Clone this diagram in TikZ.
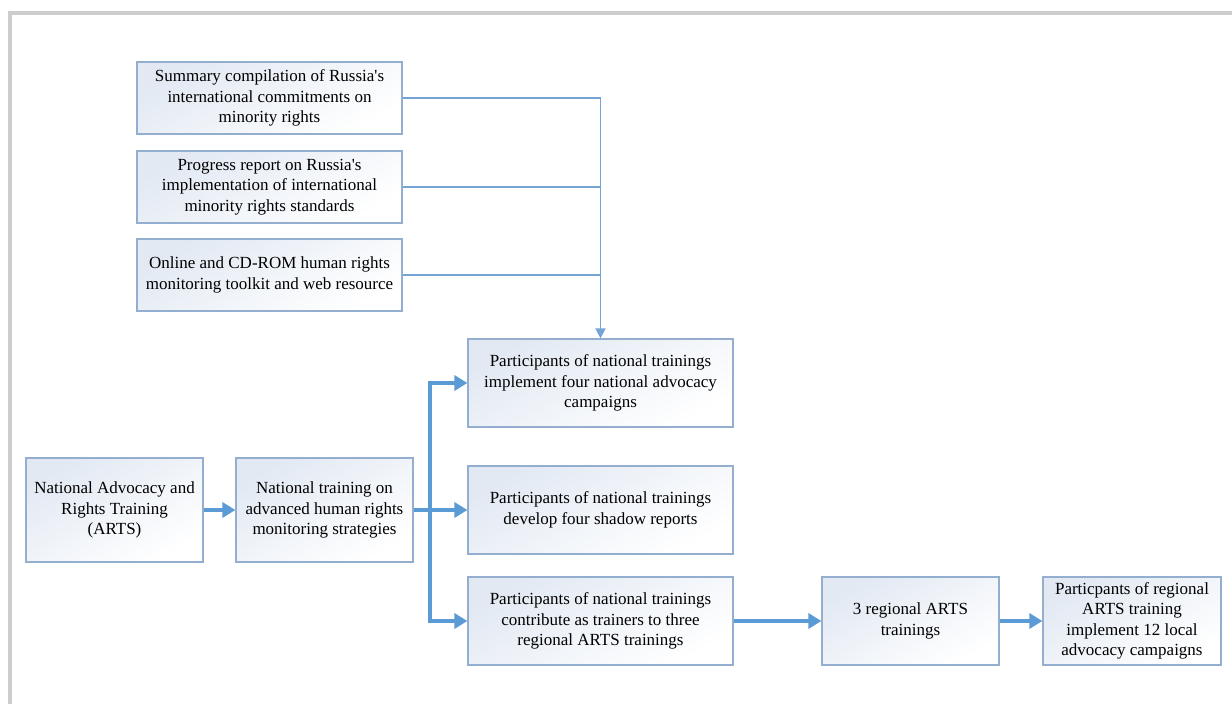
\documentclass[tikz,border=0pt]{standalone}
\usepackage{fontspec}
\setmainfont{Liberation Serif}
\usetikzlibrary{arrows.meta,calc}
\definecolor{boxedge}{HTML}{93AECF}
\definecolor{boxfill}{HTML}{E2E9F3}
\definecolor{thinline}{HTML}{74A4D6}
\definecolor{thickline}{HTML}{5B9BD5}
\definecolor{framegray}{HTML}{CDCDCD}
\begin{document}
\begin{tikzpicture}[x=1pt,y=-1pt,
  box/.style={draw=boxedge, line width=1.2pt, top color=boxfill, bottom color=white, shading angle=30,
    align=center, inner sep=0pt, font=\fontsize{17}{20.5}\selectfont},
  wbox/.style={box, minimum width=265pt},
  nbox/.style={box, minimum width=177pt},
  thinarrow/.style={draw=thinline, line width=1.5pt},
  thickarrow/.style={draw=thickline, line width=3.5pt},
  thintip/.style={-{Triangle[length=10pt,width=10pt]}},
  thicktip/.style={-{Triangle[length=13pt,width=15pt]}}
]
\useasboundingbox (0,0) rectangle (1232,704);
\fill[white] (0,0) rectangle (1232,704);
% frame
\draw[framegray, line width=4.5pt] (10,704) -- (10,13) -- (1232,13);

% top source boxes
\node[wbox, minimum height=72pt] (A) at (269.5,98) {Summary compilation of Russia\textquotesingle s\\international commitments on\\minority rights};
\node[wbox, minimum height=72pt] (B) at (269.5,187) {Progress report on Russia\textquotesingle s\\implementation of international\\minority rights standards};
\node[wbox, minimum height=72pt] (C) at (269.5,275) {Online and CD-ROM human rights\\monitoring toolkit and web resource};

% outcome boxes
\node[wbox, minimum height=88pt] (D) at (600.5,383) {Participants of national trainings\\implement four national advocacy\\campaigns};
\node[wbox, minimum height=88pt] (E) at (600.5,510) {Participants of national trainings\\develop four shadow reports};
\node[wbox, minimum height=88pt] (F) at (600.5,621) {Participants of national trainings\\contribute as trainers to three\\regional ARTS trainings};

% left chain
\node[nbox, minimum height=104pt] (N1) at (114.5,510) {National Advocacy and\\Rights Training\\(ARTS)};
\node[nbox, minimum height=104pt] (N2) at (324.5,510) {National training on\\advanced human rights\\monitoring strategies};

% right chain
\node[nbox, minimum height=88pt] (G) at (910.5,621) {3 regional ARTS\\trainings};
\node[box, minimum width=178pt, minimum height=88pt] (H) at (1132,621) {Particpants of regional\\ARTS training\\implement 12 local\\advocacy campaigns};

% thin connectors
\draw[thinarrow] (B.east) -- (B.east -| D.north);
\draw[thinarrow] (C.east) -- (C.east -| D.north);
\draw[thinarrow, thintip] (A.east) -| (D.north);

% thick connectors
\coordinate (split) at (430,510);
\draw[thickarrow, thicktip] (N1.east) -- (N2.west);
\draw[thickarrow] (N2.east) -- (split);
\draw[thickarrow, thicktip] (split) |- (D.west);
\draw[thickarrow, thicktip] (split) -- (E.west);
\draw[thickarrow, thicktip] (split) |- (F.west);
\draw[thickarrow, thicktip] (F.east) -- (G.west);
\draw[thickarrow, thicktip] (G.east) -- (H.west);
\end{tikzpicture}
\end{document}
